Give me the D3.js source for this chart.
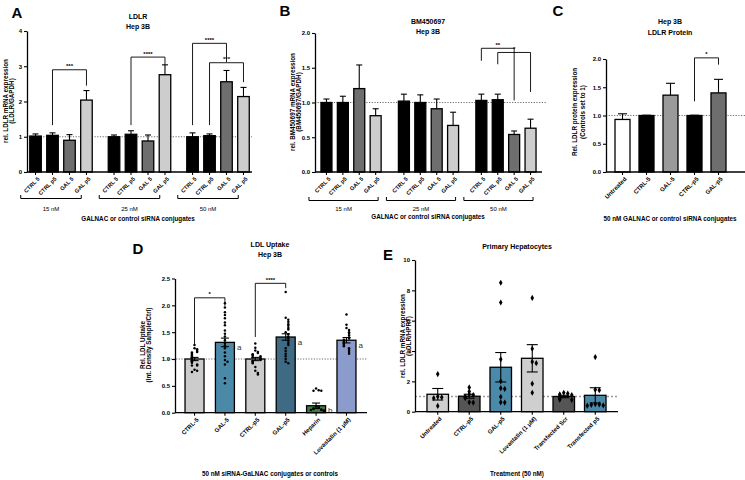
<!DOCTYPE html>
<html><head><meta charset="utf-8">
<script src="https://cdn.jsdelivr.net/npm/d3@7"></script>
<style>body{margin:0;background:#fff}</style>
</head><body><svg id="c" width="745" height="480"></svg>
<script>
// ---------------- DATA ----------------
const aGroups = ["15 nM", "25 nM", "50 nM"];
const aCats = ["CTRL 5", "CTRL p5", "GAL 5", "GAL p5"];
const aMeans = [[1.02, 1.04, 0.90, 2.04], [1.00, 1.07, 0.88, 2.76], [1.00, 1.03, 2.56, 2.14]];
const aSem = [[0.06, 0.07, 0.16, 0.27], [0.05, 0.10, 0.17, 0.28], [0.11, 0.05, 0.32, 0.26]];
const aYTicks = [0, 1, 2, 3, 4];
// [group, leftCat, rightCat, leftBottom, top, rightBottom, label]
const aSig = [[0, 1, 3, 1.33, 2.90, 2.45, "***"], [1, 1, 3, 1.33, 3.26, 3.05, "****"],
              [2, 0, 2, 1.33, 3.65, 3.12, "****"], [2, 1, 3, 1.33, 3.10, 2.55, "***"]];

const bGroups = ["15 nM", "25 nM", "50 nM"];
const bCats = ["CTRL 5", "CTRL p5", "GAL 5", "GAL p5"];
const bMeans = [[1.00, 1.00, 1.20, 0.81], [1.02, 1.00, 0.91, 0.67], [1.03, 1.04, 0.54, 0.63]];
const bSem = [[0.05, 0.09, 0.34, 0.10], [0.10, 0.11, 0.14, 0.19], [0.09, 0.08, 0.05, 0.13]];
const bYTicks = [0, 0.5, 1.0, 1.5, 2.0];
const bSig = [[2, 0, 2, 1.60, 1.78, 1.03, "**"], [2, 1, 3, 1.55, 1.72, 1.15, "*"]];

const cCats = ["Untreated", "CTRL-5", "GAL-5", "CTRL-p5", "GAL-p5"];
const cMeans = [0.93, 1.00, 1.36, 1.00, 1.40];
const cSem = [0.10, 0.005, 0.21, 0.005, 0.24];
const cYTicks = [0, 0.5, 1.0, 1.5, 2.0];
const cSig = [[3, 4, 1.25, 2.02, 1.90, "*"]];

const dCats = ["CTRL-5", "GAL-5", "CTRL-p5", "GAL-p5", "Heparin", "Lovastatin (1 μM)"];
const dMeans = [1.00, 1.31, 1.00, 1.41, 0.13, 1.35];
const dSem = [0.03, 0.08, 0.03, 0.06, 0.05, 0.05];
const dPoints = [
  [1.26, 1.20, 1.18, 1.15, 1.13, 1.12, 1.10, 1.08, 1.06, 1.04, 1.02, 1.00, 0.98, 0.96, 0.95, 0.93, 0.90, 0.88, 0.88, 0.80, 0.78, 0.76],
  [2.04, 1.96, 1.87, 1.82, 1.76, 1.68, 1.63, 1.53, 1.47, 1.42, 1.35, 1.30, 1.25, 1.20, 1.12, 1.05, 0.98, 0.95, 0.90, 0.64, 0.55],
  [1.29, 1.21, 1.16, 1.13, 1.11, 1.09, 1.08, 1.06, 1.05, 1.03, 1.02, 1.01, 0.99, 0.98, 0.96, 0.94, 0.92, 0.85, 0.78, 0.74, 0.71],
  [2.25, 1.77, 1.73, 1.69, 1.65, 1.62, 1.58, 1.55, 1.50, 1.46, 1.42, 1.38, 1.34, 1.30, 1.26, 1.20, 1.15, 1.10, 1.05, 1.00, 0.95, 0.92],
  [0.45, 0.42, 0.41, 0.41, 0.12, 0.10, 0.08, 0.06, 0.05, 0.04, 0.03, 0.05, 0.07, 0.02],
  [1.83, 1.64, 1.58, 1.54, 1.50, 1.47, 1.44, 1.40, 1.38, 1.36, 1.34, 1.32, 1.30, 1.28, 1.26, 1.24, 1.20, 1.17, 1.13, 1.10]
];
const dLetters = ["", "a", "", "a", "b", "a"];
const dYTicks = [0, 0.5, 1.0, 1.5, 2.0, 2.5];
const dSig = [[0, 1, 1.26, 2.14, 1.99, "*"], [2, 3, 1.41, 2.41, 2.32, "****"]];

const eCats = ["Untreated", "CTRL-p5", "GAL-p5", "Lovastatin (1 μM)", "Transfected Scr", "Transfected p5"];
const eMeans = [1.15, 1.02, 2.93, 3.52, 1.00, 1.08];
const eSem = [0.38, 0.13, 0.97, 0.90, 0.08, 0.50];
const ePoints = [
  [2.48, 1.00, 0.95, 0.90, 0.38],
  [1.60, 1.33, 1.15, 1.10, 1.00, 0.95, 0.90, 0.62, 0.60],
  [8.50, 7.20, 3.45, 2.00, 1.55, 1.50, 0.98, 0.62, 0.60],
  [7.50, 4.15, 3.30, 3.20, 1.85, 1.25],
  [1.25, 1.20, 1.15, 1.10, 1.00, 0.95, 0.85, 0.80, 0.78],
  [3.60, 1.45, 1.42, 0.50, 0.48, 0.45, 0.42, 0.40]
];
const eYTicks = [0, 2, 4, 6, 8, 10];

// ---------------- STYLES ----------------
const FONT = "'Liberation Sans', Arial, Helvetica, sans-serif";
const abColors = ["#000000", "#000000", "#6e6e6e", "#cdcdcd"];
const cColors = ["#ffffff", "#000000", "#9a9a9a", "#000000", "#6e6e6e"];
const dColors = ["#cccccc", "#4b89a9", "#cccccc", "#3e6a84", "#3b7d45", "#8b9bcc"];
const eColors = ["#cfcfcf", "#555555", "#4b89a9", "#cfcfcf", "#555555", "#4b89a9"];

const svg = d3.select("#c");

function txt(x, y, s, size, o = {}) {
  return svg.append("text").attr("x", x).attr("y", y).text(s)
    .attr("font-size", size).attr("font-weight", o.weight || "bold")
    .attr("text-anchor", o.anchor || "middle").attr("fill", o.fill || "#000")
    .attr("font-family", FONT);
}
function yLabel(xs, yc, lines, size) {
  lines.forEach((l, i) => svg.append("text")
    .attr("transform", `translate(${xs[i]},${yc}) rotate(-90)`)
    .attr("text-anchor", "middle").attr("font-size", size).attr("font-weight", "bold")
    .attr("font-family", FONT).text(l));
}
function yAxis(y, x0, ticks, fmt) {
  const g = svg.append("g").attr("transform", `translate(${x0},0)`)
    .call(d3.axisLeft(y).tickValues(ticks).tickFormat(fmt).tickSize(3).tickSizeOuter(0).tickPadding(2));
  g.select(".domain").attr("stroke-width", 1.3);
  g.selectAll(".tick line").attr("stroke-width", 1.1);
  g.selectAll("text").attr("font-size", 6).attr("font-weight", "bold").attr("font-family", FONT);
}
function baseLine(x0, x1, yv) {
  svg.append("line").attr("x1", x0).attr("x2", x1).attr("y1", yv).attr("y2", yv)
    .attr("stroke", "#000").attr("stroke-width", 1.3);
}
function refLine(x0, x1, yv, col, w, dash) {
  svg.append("line").attr("x1", x0).attr("x2", x1).attr("y1", yv).attr("y2", yv)
    .attr("stroke", col).attr("stroke-width", w).attr("stroke-dasharray", dash);
}
function xLabels(scale, tx, ty, size) {
  const g = svg.append("g").attr("transform", `translate(${tx},${ty})`)
    .call(d3.axisBottom(scale).tickSize(3).tickSizeOuter(0));
  g.select(".domain").remove();
  g.selectAll(".tick line").attr("stroke-width", 1.1);
  g.selectAll("text").attr("font-size", size).attr("font-weight", "bold").attr("font-family", FONT)
    .attr("text-anchor", "end").attr("x", 0).attr("y", 0).attr("dy", "0.35em")
    .attr("transform", "translate(3,6) rotate(-45)");
}
function bar(x, w, y0, y1, fill) {
  svg.append("rect").attr("x", x).attr("width", w).attr("y", y1).attr("height", y0 - y1)
    .attr("fill", fill).attr("stroke", "#000").attr("stroke-width", 1.3);
}
function errUp(cx, yTop, yCap, hw) {
  svg.append("line").attr("x1", cx).attr("x2", cx).attr("y1", yTop).attr("y2", yCap).attr("stroke", "#000").attr("stroke-width", 1.1);
  svg.append("line").attr("x1", cx - hw).attr("x2", cx + hw).attr("y1", yCap).attr("y2", yCap).attr("stroke", "#000").attr("stroke-width", 1.1);
}
function sigBracket(xl, xr, yl, yt, yr, label, size) {
  svg.append("path").attr("d", `M${xl},${yl}V${yt}H${xr}V${yr}`).attr("fill", "none")
    .attr("stroke", "#000").attr("stroke-width", 0.9);
  txt((xl + xr) / 2, yt - 1.5, label, size);
}
function swarm(vals, y, spacing) {
  const order = vals.map((v, i) => i).sort((a, b) => vals[b] - vals[a]);
  const out = new Array(vals.length);
  const placed = [];
  order.forEach(i => {
    const py = y(vals[i]);
    const k = placed.filter(p => Math.abs(p - py) < 2.6).length;
    placed.push(py);
    out[i] = (k === 0 ? 0 : (k % 2 ? 1 : -1) * Math.ceil(k / 2) * spacing);
  });
  return out;
}

// ---------------- PANEL A ----------------
{
  const y = d3.scaleLinear().domain([0, 4]).range([172, 31]);
  const g = d3.scaleBand().domain(aGroups).range([27, 252]).paddingInner(0.204).paddingOuter(0.035);
  const x = d3.scaleBand().domain(aCats).range([0, g.bandwidth()]).paddingInner(0.32).paddingOuter(0);
  refLine(27, 252, y(1), "#444", 0.8, "1.2,1.5");
  aGroups.forEach((gr, gi) => {
    aCats.forEach((c, ci) => {
      const x0 = g(gr) + x(c), cx = x0 + x.bandwidth() / 2;
      errUp(cx, y(aMeans[gi][ci]), y(aMeans[gi][ci] + aSem[gi][ci]), 3);
      bar(x0, x.bandwidth(), y(0), y(aMeans[gi][ci]), abColors[ci]);
    });
    xLabels(x, g(gr), 172, 5.6);
    const bx0 = g(gr) - 9, bx1 = g(gr) + g.bandwidth() - 11;
    svg.append("path").attr("d", `M${bx0},195V198.5H${bx1}V195`).attr("fill", "none").attr("stroke", "#000").attr("stroke-width", 1);
    txt((bx0 + bx1) / 2, 211, gr, 6, { weight: "normal" });
  });
  aSig.forEach(s => {
    const gx = g(aGroups[s[0]]);
    sigBracket(gx + x(aCats[s[1]]) + x.bandwidth() / 2, gx + x(aCats[s[2]]) + x.bandwidth() / 2,
      y(s[3]), y(s[4]), y(s[5]), s[6], 6);
  });
  baseLine(27, 252, y(0));
  yAxis(y, 27, aYTicks, d3.format("d"));
  txt(17, 18, "A", 15);
  txt(138, 19, "LDLR", 7);
  txt(138, 29, "Hep 3B", 7);
  yLabel([7.5, 13.5], 101, ["rel. LDLR mRNA expression", "(LDLR/GAPDH)"], 6.3);
  txt(138, 221, "GALNAC or control siRNA conjugates", 6.3);
}

// ---------------- PANEL B ----------------
{
  const y = d3.scaleLinear().domain([0, 2]).range([172, 33]);
  const g = d3.scaleBand().domain(bGroups).range([315, 542]).paddingInner(0.223).paddingOuter(0.077);
  const x = d3.scaleBand().domain(bCats).range([0, g.bandwidth()]).paddingInner(0.33).paddingOuter(0);
  refLine(315, 546, y(1), "#444", 0.8, "1.2,1.5");
  bGroups.forEach((gr, gi) => {
    bCats.forEach((c, ci) => {
      const x0 = g(gr) + x(c), cx = x0 + x.bandwidth() / 2;
      errUp(cx, y(bMeans[gi][ci]), y(bMeans[gi][ci] + bSem[gi][ci]), 3);
      bar(x0, x.bandwidth(), y(0), y(bMeans[gi][ci]), abColors[ci]);
    });
    xLabels(x, g(gr), 172, 5.6);
    const bx0 = g(gr) - 12, bx1 = g(gr) + g.bandwidth() - 3;
    svg.append("path").attr("d", `M${bx0},197V200.5H${bx1}V197`).attr("fill", "none").attr("stroke", "#000").attr("stroke-width", 1);
    txt((bx0 + bx1) / 2, 211, gr, 6, { weight: "normal" });
  });
  bSig.forEach(s => {
    const gx = g(bGroups[s[0]]);
    sigBracket(gx + x(bCats[s[1]]) + x.bandwidth() / 2, gx + x(bCats[s[2]]) + x.bandwidth() / 2,
      y(s[3]), y(s[4]), y(s[5]), s[6], 6);
  });
  baseLine(315, 542, y(0));
  yAxis(y, 315, bYTicks, d3.format(".1f"));
  txt(285, 16, "B", 15);
  txt(428, 24, "BM450697", 7);
  txt(428, 34, "Hep 3B", 7);
  yLabel([294.5, 300.5], 102, ["rel. BM450697 mRNA expression", "(BM450697/GAPDH)"], 6.3);
  txt(428, 219, "GALNAC or control siRNA conjugates", 6.3);
}

// ---------------- PANEL C ----------------
{
  const y = d3.scaleLinear().domain([0, 2]).range([172, 59]);
  const x = d3.scaleBand().domain(cCats).range([606, 735]).paddingInner(0.375).paddingOuter(0.375);
  refLine(606, 745, y(1), "#444", 0.8, "1.2,1.5");
  cCats.forEach((c, i) => {
    const cx = x(c) + x.bandwidth() / 2;
    errUp(cx, y(cMeans[i]), y(cMeans[i] + cSem[i]), 4.5);
    bar(x(c), x.bandwidth(), y(0), y(cMeans[i]), cColors[i]);
  });
  cSig.forEach(s => sigBracket(x(cCats[s[0]]) + x.bandwidth() / 2, x(cCats[s[1]]) + x.bandwidth() / 2,
    y(s[2]), y(s[3]), y(s[4]), s[5], 6));
  xLabels(x, 0, 172, 6);
  baseLine(606, 745, y(0));
  yAxis(y, 606, cYTicks, d3.format(".1f"));
  txt(558, 16, "C", 15);
  txt(670, 24, "Hep 3B", 7);
  txt(670, 35, "LDLR Protein", 7);
  yLabel([576.5, 584.5], 112, ["Rel. LDLR protein expression", "(Controls set to 1)"], 6.3);
  txt(670, 221, "50 nM GALNAC or control siRNA conjugates", 6.3);
}

// ---------------- PANEL D ----------------
{
  const y = d3.scaleLinear().domain([0, 2.5]).range([412.7, 278.5]);
  const x = d3.scaleBand().domain(dCats).range([175, 366]).paddingInner(0.375).paddingOuter(0.33);
  refLine(168, 367, y(1), "#444", 0.8, "1.2,1.5");
  dCats.forEach((c, i) => {
    const cx = x(c) + x.bandwidth() / 2;
    bar(x(c), x.bandwidth(), y(0), y(dMeans[i]), dColors[i]);
    const offs = swarm(dPoints[i], y, 2.6);
    dPoints[i].forEach((v, j) => svg.append("circle").attr("cx", cx + offs[j]).attr("cy", y(v)).attr("r", 1.25).attr("fill", "#000"));
    errUp(cx, y(dMeans[i] - dSem[i]), y(dMeans[i] + dSem[i]), 4);
    svg.append("line").attr("x1", cx - 4).attr("x2", cx + 4).attr("y1", y(dMeans[i] - dSem[i])).attr("y2", y(dMeans[i] - dSem[i])).attr("stroke", "#000").attr("stroke-width", 1.1);
    if (dLetters[i]) txt(x(c) + x.bandwidth() + 2.5, y(dMeans[i]) + 7.5, dLetters[i], 8, { weight: "normal", anchor: "start", fill: "#333" });
  });
  dSig.forEach(s => sigBracket(x(dCats[s[0]]) + x.bandwidth() / 2, x(dCats[s[1]]) + x.bandwidth() / 2,
    y(s[2]), y(s[3]), y(s[4]), s[5], 6));
  xLabels(x, 0, 412.7, 6);
  baseLine(175, 367, y(0));
  yAxis(y, 175, dYTicks, d3.format(".1f"));
  txt(138, 254, "D", 15);
  txt(270, 247, "LDL Uptake", 7);
  txt(270, 257, "Hep 3B", 7);
  yLabel([144.5, 150.5], 345, ["Rel. LDL Uptake", "(Int. Density Sample/Ctrl)"], 6.3);
  txt(270, 476, "50 nM siRNA-GaLNAC conjugates or controls", 6.3);
}

// ---------------- PANEL E ----------------
{
  const y = d3.scaleLinear().domain([0, 10]).range([411.7, 260]);
  const x = d3.scaleBand().domain(eCats).range([415, 618]).paddingInner(0.317).paddingOuter(0.38);
  refLine(415, 618, y(1), "#9a9a9a", 1.4, "2,2");
  const diamond = d3.symbol().type(d3.symbolDiamond).size(11);
  eCats.forEach((c, i) => {
    const cx = x(c) + x.bandwidth() / 2;
    bar(x(c), x.bandwidth(), y(0), y(eMeans[i]), eColors[i]);
    const offs = swarm(ePoints[i], y, 4);
    ePoints[i].forEach((v, j) => svg.append("path").attr("d", diamond)
      .attr("transform", `translate(${cx + offs[j]},${y(v)})`).attr("fill", "#000"));
    const lo = y(eMeans[i] - eSem[i]), hi = y(eMeans[i] + eSem[i]);
    svg.append("line").attr("x1", cx).attr("x2", cx).attr("y1", lo).attr("y2", hi).attr("stroke", "#000").attr("stroke-width", 1.1);
    [lo, hi].forEach(yy => svg.append("line").attr("x1", cx - 5.5).attr("x2", cx + 5.5).attr("y1", yy).attr("y2", yy).attr("stroke", "#000").attr("stroke-width", 1.1));
  });
  xLabels(x, 0, 411.7, 6);
  baseLine(415, 618, y(0));
  yAxis(y, 415, eYTicks, d3.format("d"));
  txt(388, 260, "E", 15);
  txt(517, 249, "Primary Hepatocytes", 7);
  yLabel([404.5, 410.5], 336, ["rel. LDLR mRNA expression", "(LDLR/HPRT)"], 6.3);
  txt(517, 476, "Treatment (50 nM)", 6.3);
}
</script>
</body></html>
